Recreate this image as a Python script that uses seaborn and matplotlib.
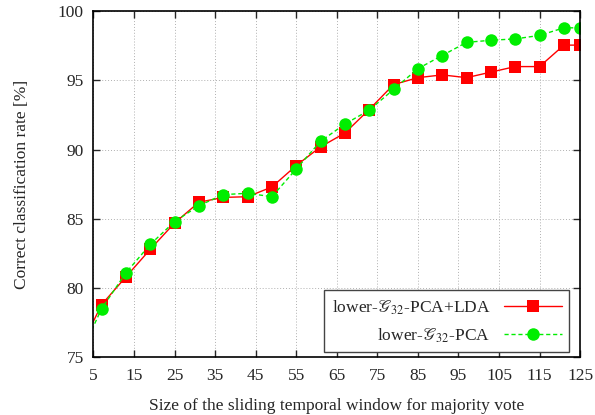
import matplotlib
matplotlib.use("Agg")
import matplotlib.pyplot as plt
import seaborn as sns

# window sizes (first point lies left of the visible range, as in the original)
window = [1, 7, 13, 19, 25, 31, 37, 43, 49, 55, 61, 67, 73, 79, 85, 91, 97, 103, 109, 115, 121, 125]
pca_lda = [75.2, 78.8, 80.8, 82.8, 84.7, 86.2, 86.55, 86.6, 87.3, 88.85, 90.2, 91.2, 92.9,
           94.7, 95.2, 95.4, 95.2, 95.6, 96.0, 96.0, 97.55, 97.55]
pca = [74.7, 78.5, 81.1, 83.15, 84.8, 85.95, 86.75, 86.85, 86.6, 88.6, 90.6, 91.85, 92.85,
       94.35, 95.85, 96.8, 97.75, 97.9, 98.0, 98.25, 98.8, 98.8]

x_ticks = list(range(5, 126, 10))
y_ticks = list(range(75, 101, 5))

sns.set_theme(style="ticks")
plt.rcParams["font.family"] = ["Liberation Serif", "DejaVu Serif"]
plt.rcParams["mathtext.fontset"] = "stix"

fig = plt.figure(figsize=(5.95, 4.15), dpi=100)
ax = fig.add_axes([0.157, 0.139, 0.818, 0.834])

sns.lineplot(x=window, y=pca_lda, ax=ax, color="#ff0000", lw=1.0, marker="s",
             markersize=8.5, markeredgewidth=0, label=r"lower-$\mathscr{G}_{32}$-PCA+LDA")
sns.lineplot(x=window, y=pca, ax=ax, color="#00ee00", lw=1.0, linestyle=(0, (3, 2)),
             marker="o", markersize=9, markeredgewidth=0, label=r"lower-$\mathscr{G}_{32}$-PCA")

ax.set_xlim(5, 125)
ax.set_ylim(75, 100)
ax.set_xticks(x_ticks)
ax.set_yticks(y_ticks)
ax.grid(True, color="#b0b0b0", linestyle=(0, (1, 2)), linewidth=0.7)
ax.tick_params(direction="in", top=True, right=True, length=5, width=1, labelsize=12.5)
ax.tick_params(axis="x", pad=8)
ax.tick_params(axis="y", pad=7)
for sp in ax.spines.values():
    sp.set_linewidth(1.2)
    sp.set_color("black")

ax.set_xlabel("Size of the sliding temporal window for majority vote", fontsize=12.5, labelpad=10)
ax.set_ylabel("Correct classification rate [%]", fontsize=12.5, labelpad=20)

leg = ax.legend(loc="lower right", bbox_to_anchor=(0.978, 0.014), borderaxespad=0,
                markerfirst=False, fontsize=12.5, fancybox=False, framealpha=1,
                edgecolor="#444444", handlelength=3.3, borderpad=0.45, labelspacing=0.55)
leg.get_frame().set_linewidth(1.0)
for t in leg.get_texts():
    t.set_ha("right")

fig.savefig("out.png", dpi=100)
